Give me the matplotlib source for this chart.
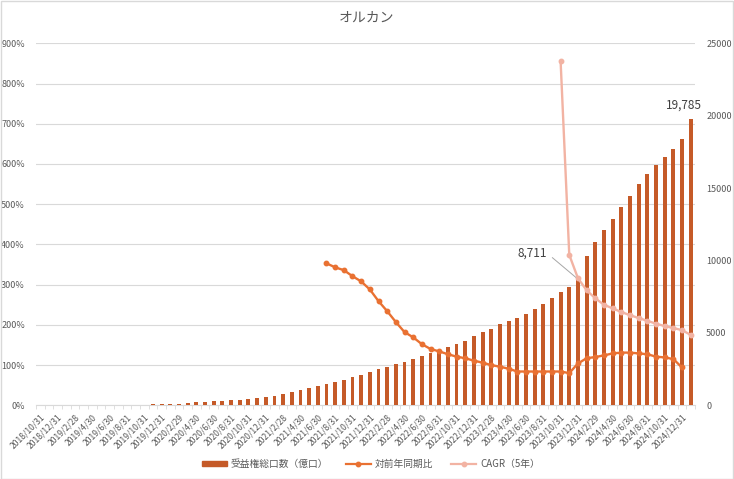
import numpy as np
import pandas as pd
import matplotlib
matplotlib.use("Agg")
import matplotlib.pyplot as plt
from matplotlib.lines import Line2D
from matplotlib.patches import Patch, Rectangle

plt.rcParams['font.family'] = ['Noto Sans CJK JP', 'DejaVu Sans']

# month-end categories 2018/10 .. 2025/1
months = pd.date_range('2018-10-31', periods=76, freq='ME')
month_labels = [f"{d.year}/{d.month}/{d.day}" for d in months]

# 受益権総口数（億口） from 2019/11
units_start = '2019-11-30'
units = [90, 90, 100, 100, 160, 230, 230, 320, 320, 390, 390, 460, 530, 600,
         670, 780, 945, 1080, 1220, 1360, 1500, 1635, 1770, 1980,
         2095, 2302, 2509, 2668, 2854, 2992, 3220, 3406, 3613, 3842, 4028,
         4235, 4442, 4787, 5063, 5270, 5616, 5823, 6030, 6306, 6652, 6997,
         7411, 7825, 8170, 8711, 10334, 11280, 12108, 12888, 13696, 14455,
         15284, 15974, 16595, 17148, 17700, 18391, 19785]

# 対前年同期比 (%) from 2021/7
yoy_start = '2021-07-31'
yoy = [353, 343, 336, 321, 308, 288, 259, 234, 207, 182, 169, 152, 140, 134,
       127, 121, 117, 111, 106, 100, 96, 91, 84, 84, 84, 84, 84, 84, 80,
       104, 117, 120, 124, 129, 131, 131, 129, 127, 121, 119, 115, 94]

# CAGR（5年） (%) from 2023/10
cagr_start = '2023-10-31'
cagr = [856, 374, 316, 286, 266, 250, 241, 232, 224, 217, 210, 203, 197,
        192, 187, 175]

highlight_label = 8711

bar_c = '#C55A28'
yoy_c = '#E97132'
cagr_c = '#F2B3A3'
txt_c = '#595959'
grid_c = '#D9D9D9'


def positions(start, vals):
    i0 = list(months).index(pd.Timestamp(start))
    return np.arange(i0, i0 + len(vals))


x_units = positions(units_start, units)
x_yoy = positions(yoy_start, yoy)
x_cagr = positions(cagr_start, cagr)

fig = plt.figure(figsize=(7.34, 4.79), dpi=100)
rect = [36 / 734, 1 - 405.3 / 479, (695 - 36) / 734, (405.3 - 43.3) / 479]
ax = fig.add_axes(rect)
ax2 = ax.twinx()
ax3 = fig.add_axes(rect, sharex=ax, sharey=ax)

# left axis (percent) + grid
ax.set_ylim(0, 900)
ax.set_yticks(range(0, 901, 100))
ax.set_yticklabels([f"{v}%" for v in range(0, 901, 100)])
ax.grid(axis='y', color=grid_c, linewidth=0.8)
ax.set_axisbelow(True)
ax.tick_params(axis='y', length=0, labelsize=6.5, labelcolor=txt_c, pad=8)

# bars on the right axis
ax2.bar(x_units, units, width=0.45, color=bar_c, zorder=2)
ax2.set_ylim(0, 25000)
ax2.set_yticks(range(0, 25001, 5000))
ax2.tick_params(axis='y', length=0, labelsize=6.5, labelcolor=txt_c, pad=8)

# lines on top
ax3.plot(x_yoy, yoy, color=yoy_c, lw=1.7, marker='o', ms=3.2)
ax3.plot(x_cagr, cagr, color=cagr_c, lw=1.7, marker='o', ms=3.2)
ax3.axis('off')
ax3.patch.set_visible(False)

# x axis
ax.set_xlim(-0.5, len(months) - 0.5)
ax.set_xticks(range(0, len(months), 2))
ax.set_xticklabels(month_labels[::2], rotation=45, ha='right',
                   rotation_mode='anchor')
ax.set_xticks(np.arange(-0.5, len(months), 1), minor=True)
ax.tick_params(axis='x', which='major', length=0, labelsize=6.2,
               labelcolor=txt_c, pad=5)
ax.tick_params(axis='x', which='minor', length=3, color=grid_c)

for a in (ax, ax2):
    for s in a.spines.values():
        s.set_visible(False)
ax.spines['bottom'].set_visible(True)
ax.spines['bottom'].set_color(grid_c)

# data labels
ax2.annotate(f"{units[-1]:,}", xy=(x_units[-1], units[-1]),
             xytext=(-5, 5), textcoords='offset points', ha='center',
             va='bottom', fontsize=8.5, color='#404040')
hi = units.index(highlight_label)
ax2.annotate(f"{units[hi]:,}", xy=(x_units[hi], units[hi]),
             xytext=(-22, 18.5), textcoords='offset points', ha='right',
             va='center', fontsize=8.5, color='#404040',
             arrowprops=dict(arrowstyle='-', color='#A6A6A6', lw=0.7,
                             shrinkA=2, shrinkB=0, relpos=(1, 0.5)))

fig.text(0.5, 1 - 18 / 479, 'オルカン', ha='center', va='center',
         fontsize=10, color=txt_c)

handles = [Patch(color=bar_c, label='受益権総口数（億口）'),
           Line2D([], [], color=yoy_c, lw=1.6, marker='o', ms=3.2,
                  label='対前年同期比'),
           Line2D([], [], color=cagr_c, lw=1.6, marker='o', ms=3.2,
                  label='CAGR（5年）')]
leg = fig.legend(handles=handles, loc='center', ncol=3,
                 bbox_to_anchor=(0.505, 1 - 464 / 479), frameon=False,
                 fontsize=7, handlelength=2.6, handleheight=0.5,
                 columnspacing=1.8, handletextpad=0.4)
for t in leg.get_texts():
    t.set_color(txt_c)

fig.add_artist(Rectangle((0.001, 0.001), 0.997, 0.997,
                         transform=fig.transFigure, fill=False,
                         ec=grid_c, lw=1))

fig.savefig('out.png', dpi=100)
